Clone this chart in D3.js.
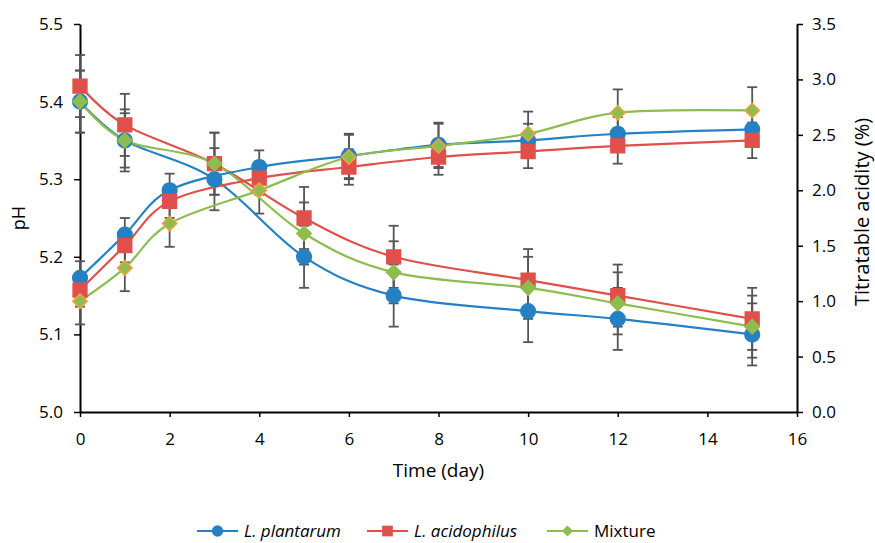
<!DOCTYPE html>
<html>
<head>
<meta charset="utf-8">
<script src="https://cdn.jsdelivr.net/npm/d3@7"></script>
<style>
  body { margin: 0; background: #fff; }
  text { font-family: "Open Sans", sans-serif; fill: #000; }
</style>
</head>
<body>
<svg id="chart" width="875" height="543"></svg>
<script>
// pH measurements (left axis)
const daysPH = [0, 1, 3, 5, 7, 10, 12, 15];
const phPlantarum = [5.40, 5.35, 5.30, 5.20, 5.15, 5.13, 5.12, 5.10];
const phAcidophilus = [5.42, 5.37, 5.32, 5.25, 5.20, 5.17, 5.15, 5.12];
const phMixture = [5.40, 5.35, 5.32, 5.23, 5.18, 5.16, 5.14, 5.11];
const phErrPlantarum = [0.04, 0.04, 0.04, 0.04, 0.04, 0.04, 0.04, 0.04];
const phErrAcidophilus = [0.04, 0.04, 0.04, 0.04, 0.04, 0.04, 0.04, 0.04];
const phErrMixture = [0.04, 0.035, 0.04, 0.04, 0.04, 0.04, 0.04, 0.04];

// titratable acidity (right axis)
const daysTA = [0, 1, 2, 4, 6, 8, 10, 12, 15];
const taPlantarum = [1.21, 1.60, 2.00, 2.21, 2.31, 2.41, 2.45, 2.51, 2.55];
const taAcidophilus = [1.10, 1.50, 1.90, 2.11, 2.21, 2.30, 2.35, 2.40, 2.45];
const taMixture = [1.00, 1.30, 1.70, 2.00, 2.30, 2.40, 2.51, 2.70, 2.72];
const taErrPlantarum = [0.15, 0.15, 0.15, 0.15, 0.2, 0.2, 0.15, 0.15, 0.15];
const taErrAcidophilus = [0.15, 0.15, 0.15, 0.15, 0.16, 0.16, 0.15, 0.16, 0.16];
const taErrMixture = [0.21, 0.21, 0.21, 0.21, 0.2, 0.2, 0.2, 0.21, 0.21];

const xTicks = [0, 2, 4, 6, 8, 10, 12, 14, 16];
const phTicks = [5.0, 5.1, 5.2, 5.3, 5.4, 5.5];
const taTicks = [0, 0.5, 1.0, 1.5, 2.0, 2.5, 3.0, 3.5];
const legendNames = ["L. plantarum", "L. acidophilus", "Mixture"];

const blue = "#2581c4", red = "#e0504b", green = "#8dbd4e", orange = "#f5a03c", errColor = "#555555";

const margin = { top: 24, right: 78, bottom: 131, left: 80 };
const width = 875 - margin.left - margin.right;
const height = 543 - margin.top - margin.bottom;

const svg = d3.select("#chart");
const g = svg.append("g").attr("transform", `translate(${margin.left},${margin.top})`);

const x = d3.scaleLinear().domain([0, 16]).range([0, width]);
const yPH = d3.scaleLinear().domain([5.0, 5.5]).range([height, 0]);
const yTA = d3.scaleLinear().domain([0, 3.5]).range([height, 0]);

// axes
const styleAxis = a => {
    a.attr("font-size", null).attr("font-family", null);
    a.select(".domain").attr("stroke", "#000").attr("stroke-width", 2);
    a.selectAll(".tick line").attr("stroke", "#000").attr("stroke-width", 1.5);
    a.selectAll(".tick text").style("font-size", "17px");
};

g.append("g").attr("transform", `translate(0,${height})`)
    .call(d3.axisBottom(x).tickValues(xTicks).tickSize(5).tickSizeOuter(0).tickPadding(16))
    .call(styleAxis);

g.append("g")
    .call(d3.axisLeft(yPH).tickValues(phTicks).tickFormat(d3.format(".1f")).tickSize(6).tickSizeOuter(0).tickPadding(11))
    .call(styleAxis);

g.append("g").attr("transform", `translate(${width},0)`)
    .call(d3.axisRight(yTA).tickValues(taTicks).tickFormat(d3.format(".1f")).tickSize(6).tickSizeOuter(0).tickPadding(9))
    .call(styleAxis);

// axis titles
svg.append("text").attr("transform", `translate(25,${margin.top + height / 2}) rotate(-90)`)
    .attr("text-anchor", "middle").style("font-size", "18px").text("pH");
svg.append("text").attr("x", margin.left + width / 2).attr("y", 477)
    .attr("text-anchor", "middle").style("font-size", "19px").text("Time (day)");
svg.append("text").attr("transform", `translate(869,${margin.top + height / 2 - 6}) rotate(-90)`)
    .attr("text-anchor", "middle").style("font-size", "20px").text("Titratable acidity (%)");

const series = [
    { days: daysPH, vals: phPlantarum, err: phErrPlantarum, y: yPH, color: blue, shape: "circle", edge: blue },
    { days: daysPH, vals: phAcidophilus, err: phErrAcidophilus, y: yPH, color: red, shape: "square", edge: red },
    { days: daysPH, vals: phMixture, err: phErrMixture, y: yPH, color: green, shape: "diamond", edge: green },
    { days: daysTA, vals: taPlantarum, err: taErrPlantarum, y: yTA, color: blue, shape: "circle", edge: blue },
    { days: daysTA, vals: taAcidophilus, err: taErrAcidophilus, y: yTA, color: red, shape: "square", edge: red },
    { days: daysTA, vals: taMixture, err: taErrMixture, y: yTA, color: green, shape: "diamond", edge: orange }
];
series.forEach(s => { s.pts = s.days.map((d, i) => ({ day: d, v: s.vals[i], e: s.err[i] })); });

// error bars
series.forEach(s => {
    const eb = g.append("g").attr("stroke", errColor).attr("stroke-width", 1.8);
    s.pts.forEach(p => {
        const cx = x(p.day), y1 = s.y(p.v - p.e), y2 = s.y(p.v + p.e);
        eb.append("line").attr("x1", cx).attr("x2", cx).attr("y1", y1).attr("y2", y2);
        eb.append("line").attr("x1", cx - 5).attr("x2", cx + 5).attr("y1", y1).attr("y2", y1);
        eb.append("line").attr("x1", cx - 5).attr("x2", cx + 5).attr("y1", y2).attr("y2", y2);
    });
});

// smoothed lines
series.forEach(s => {
    const line = d3.line().x(p => x(p.day)).y(p => s.y(p.v)).curve(d3.curveCatmullRom.alpha(0));
    g.append("path").datum(s.pts).attr("fill", "none").attr("stroke", s.color)
        .attr("stroke-width", 2.2).attr("d", line);
});

// diamond = square turned 45 degrees
const symbols = { circle: d3.symbolCircle, square: d3.symbolSquare, diamond: d3.symbolSquare };
const symSize = { circle: 170, square: 190, diamond: 105 };
const symRot = { circle: 0, square: 0, diamond: 45 };

// markers
series.forEach(s => {
    g.append("g").selectAll("path").data(s.pts).join("path")
        .attr("transform", p => `translate(${x(p.day)},${s.y(p.v)}) rotate(${symRot[s.shape]})`)
        .attr("d", d3.symbol().type(symbols[s.shape]).size(symSize[s.shape]))
        .attr("fill", s.color).attr("stroke", s.edge).attr("stroke-width", 1.5);
});

// legend
const legendX = [197, 367, 547];
const legendColors = [blue, red, green];
const legendShapes = ["circle", "square", "diamond"];
const legend = svg.append("g").attr("transform", "translate(0,531)");
legendNames.forEach((name, i) => {
    const lg = legend.append("g").attr("transform", `translate(${legendX[i]},0)`);
    lg.append("line").attr("x1", 0).attr("x2", 41).attr("stroke", legendColors[i]).attr("stroke-width", 2.2);
    lg.append("path").attr("transform", `translate(20.5,0) rotate(${symRot[legendShapes[i]]})`)
        .attr("d", d3.symbol().type(symbols[legendShapes[i]]).size(symSize[legendShapes[i]] * 0.6))
        .attr("fill", legendColors[i]);
    lg.append("text").attr("x", 47).attr("y", 6).style("font-size", "17px")
        .style("font-style", i < 2 ? "italic" : "normal").text(name);
});
</script>
</body>
</html>
